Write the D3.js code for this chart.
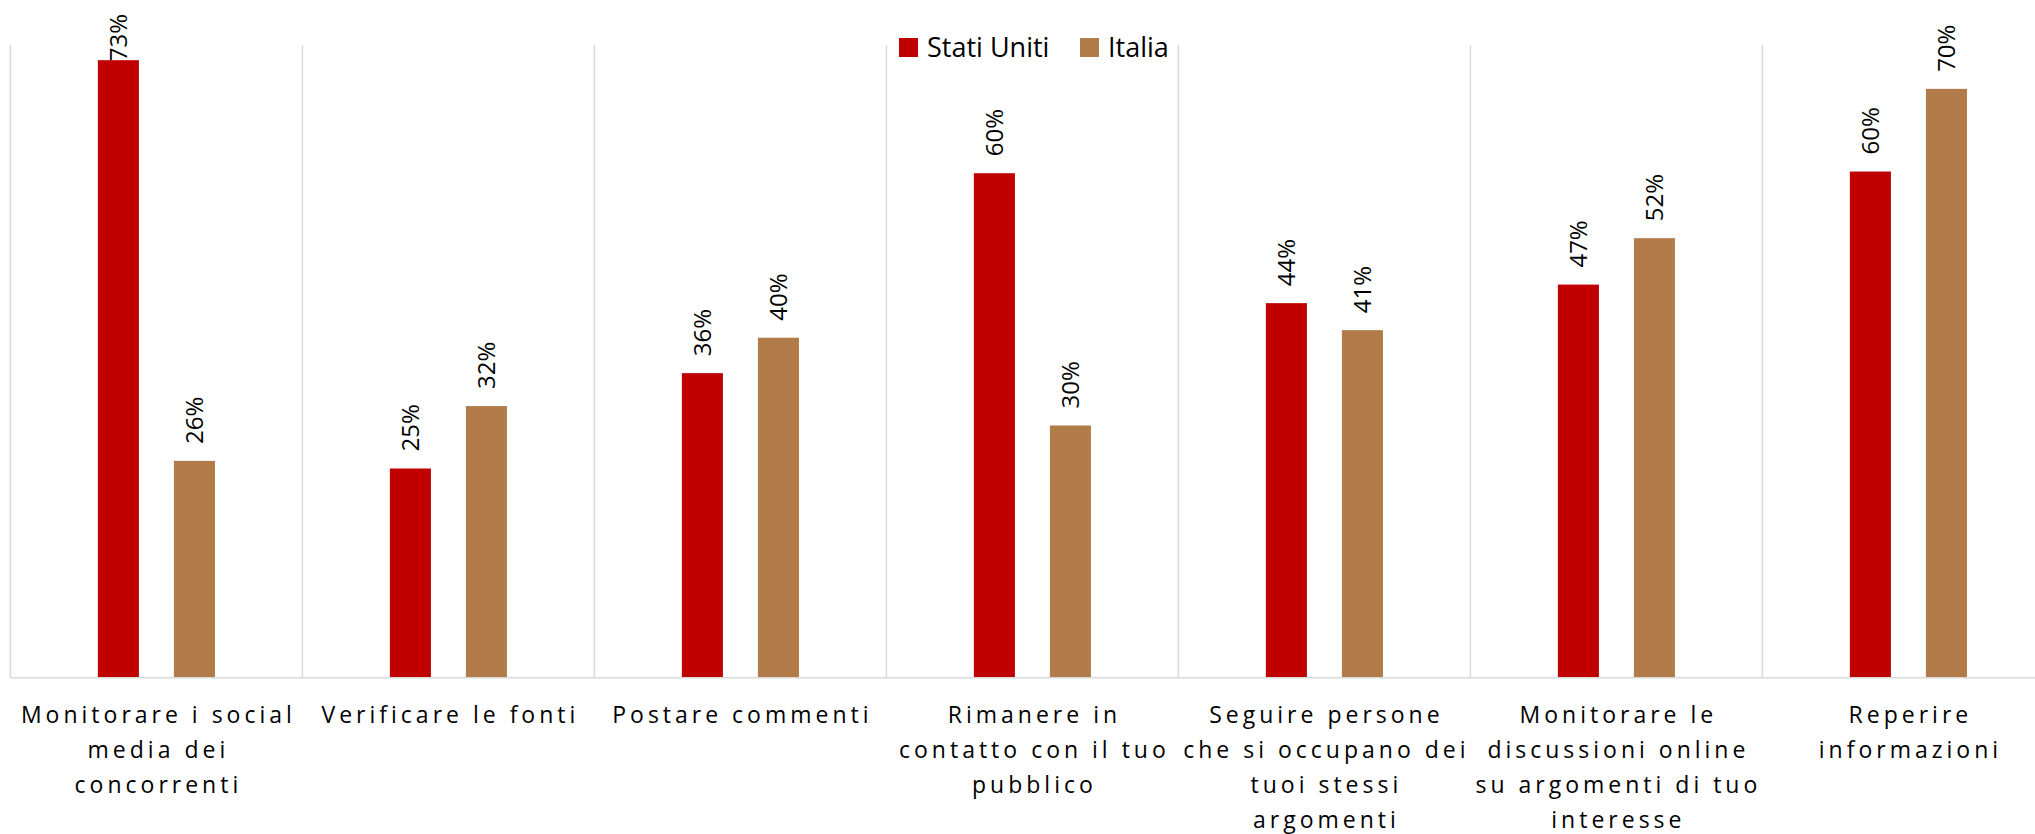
<!DOCTYPE html>
<html>
<head>
<meta charset="utf-8">
<script src="https://cdn.jsdelivr.net/npm/d3@7"></script>
<style>
  body { margin: 0; background: #fff; }
  svg { display: block; font-family: "Open Sans", sans-serif; }
</style>
</head>
<body>
<svg id="chart" width="2035" height="834"></svg>
<script>
// categories, already split the way the labels wrap
var categories = [
  ["Monitorare i social", "media dei", "concorrenti"],
  ["Verificare le fonti"],
  ["Postare commenti"],
  ["Rimanere in", "contatto con il tuo", "pubblico"],
  ["Seguire persone", "che si occupano dei", "tuoi stessi", "argomenti"],
  ["Monitorare le", "discussioni online", "su argomenti di tuo", "interesse"],
  ["Reperire", "informazioni"]
];
var seriesNames = ["Stati Uniti", "Italia"];
var seriesColors = ["#C00000", "#B27C4A"];
// percent values
var statiUniti = [73.2, 24.8, 36.1, 59.8, 44.4, 46.6, 60.0];
var italia = [25.7, 32.2, 40.3, 29.9, 41.2, 52.1, 69.8];

var svg = d3.select("#chart");

var plotLeft = 10.4, step = 292, plotTop = 45, plotBottom = 677.7;
var keys = categories.map(function(c) { return c.join(" "); });

var x = d3.scaleBand()
    .domain(keys)
    .range([plotLeft, plotLeft + step * keys.length])
    .padding(0);

var xs = d3.scaleBand()
    .domain(seriesNames)
    .range([0, x.bandwidth()])
    .paddingInner(0.46)
    .paddingOuter(1.15);

var y = d3.scaleLinear().domain([0, 75]).range([plotBottom, plotTop]);

// category separators
var edges = keys.map(function(k) { return x(k); });
edges.push(x.range()[1]);
svg.append("g").selectAll("line")
    .data(edges)
  .enter().append("line")
    .attr("x1", function(d) { return d; })
    .attr("x2", function(d) { return d; })
    .attr("y1", plotTop)
    .attr("y2", plotBottom)
    .attr("stroke", "#d9d9d9")
    .attr("stroke-width", 1.5);

var rows = [];
keys.forEach(function(k, i) {
  rows.push({cat: k, s: seriesNames[0], v: statiUniti[i], c: seriesColors[0]});
  rows.push({cat: k, s: seriesNames[1], v: italia[i], c: seriesColors[1]});
});

svg.append("g").selectAll("rect")
    .data(rows)
  .enter().append("rect")
    .attr("x", function(d) { return x(d.cat) + xs(d.s); })
    .attr("width", xs.bandwidth())
    .attr("y", function(d) { return y(d.v); })
    .attr("height", function(d) { return plotBottom - y(d.v); })
    .attr("fill", function(d) { return d.c; });

// baseline
svg.append("line")
    .attr("x1", plotLeft).attr("x2", x.range()[1])
    .attr("y1", plotBottom).attr("y2", plotBottom)
    .attr("stroke", "#d9d9d9")
    .attr("stroke-width", 1.5);

// rotated data labels, kept inside the chart area like Excel does
var fmt = function(v) { return Math.round(v) + "%"; };
var labels = svg.append("g").selectAll("text")
    .data(rows)
  .enter().append("text")
    .attr("font-size", 24)
    .attr("fill", "#000")
    .attr("dy", "0.35em")
    .text(function(d) { return fmt(d.v); });

labels.each(function(d) {
  var len = this.getComputedTextLength();
  var cx = x(d.cat) + xs(d.s) + xs.bandwidth() / 2;
  var by = Math.max(y(d.v) - 17, 14 + len);
  d3.select(this).attr("transform", "translate(" + cx + "," + by + ") rotate(-90)");
});

// category labels
var ls = 4;
var catG = svg.append("g").selectAll("text")
    .data(categories)
  .enter().append("text")
    .attr("font-size", 23)
    .attr("letter-spacing", ls)
    .attr("fill", "#000")
    .attr("text-anchor", "middle");

catG.each(function(lines, i) {
  var cx = x(keys[i]) + x.bandwidth() / 2 + ls / 2;
  var t = d3.select(this);
  lines.forEach(function(l, j) {
    t.append("tspan")
      .attr("x", cx)
      .attr("y", 723 + j * 35)
      .text(l);
  });
});

// legend
var legendX = [899, 1080];
var lg = svg.append("g").selectAll("g")
    .data(seriesNames)
  .enter().append("g")
    .attr("transform", function(d, i) { return "translate(" + legendX[i] + ",38)"; });
lg.append("rect")
    .attr("width", 19).attr("height", 19)
    .attr("fill", function(d, i) { return seriesColors[i]; });
lg.append("text")
    .attr("x", 28).attr("y", 19)
    .attr("font-size", 27)
    .attr("fill", "#000")
    .text(function(d) { return d; });
</script>
</body>
</html>
